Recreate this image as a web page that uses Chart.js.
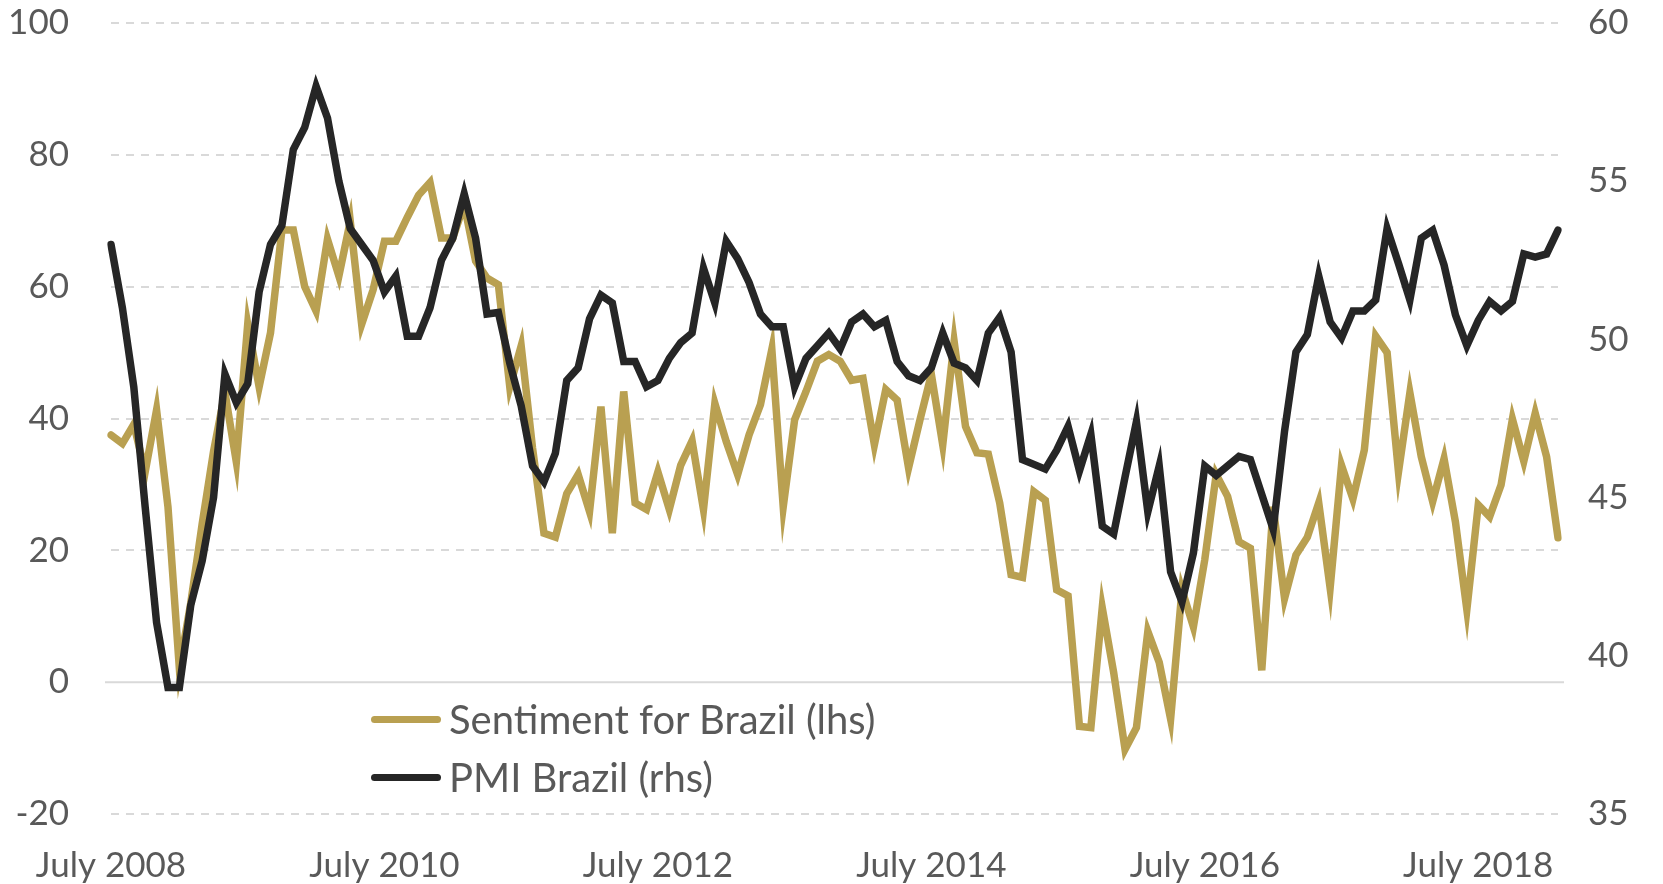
<!DOCTYPE html>
<html>
<head>
<meta charset="utf-8">
<script src="https://cdn.jsdelivr.net/npm/chart.js@4"></script>
<style>
    body { margin: 0; background: #fff; }
    #wrap { position: relative; width: 1663px; height: 884px; }
    #legend { position: absolute; left: 371px; top: 690px; font-family: Lato, sans-serif; font-size: 40px; color: #595959; }
    .item { display: flex; align-items: center; height: 58px; }
    .swatch { width: 70px; height: 7px; border-radius: 4px; margin-right: 8px; }
</style>
</head>
<body>
<div id="wrap">
    <canvas id="chart" width="1663" height="884"></canvas>
    <div id="legend"></div>
</div>
<script>
// Monthly data, July 2008 - February 2019
const sentiment = [
    37.5, 36.2, 39.1, 31.9, 41.3, 26.6, 2.1, 12, 24, 35, 44, 33.4,
    54.3, 44.8, 53.0, 68.6, 68.6, 60.0, 56.3, 67.2, 61.6, 69.9, 54.3, 59.5,
    66.9, 66.9, 70.5, 73.9, 75.8, 67.4, 67.4, 72.5, 63.9, 61.3, 60.3, 44.8,
    51.0, 35.5, 22.6, 22.0, 28.6, 31.5, 25.9, 41.8, 22.6, 44.1, 27.2, 26.2,
    31.9, 26.2, 32.9, 36.6, 26.2, 42.3, 36.5, 31.5, 37.5, 42.1, 50.5, 26.6,
    39.8, 44.1, 48.7, 49.7, 48.7, 45.8, 46.1, 36.0, 44.4, 42.8, 32.5, 39.8,
    46.7, 36.0, 51.7, 38.8, 34.8, 34.6, 27.2, 16.3, 15.9, 28.9, 27.6, 14.0,
    13.1, -6.7, -6.9, 11.3, 1.5, -10.2, -6.9, 7.7, 3.0, -5.6, 14.0, 8.4,
    18.6, 31.5, 28.2, 21.3, 20.3, 1.8, 26.6, 12.7, 19.3, 22.0, 27.2, 14.3,
    32.9, 27.8, 35.2, 52.5, 50.0, 31.9, 43.9, 34.2, 27.4, 33.9, 24.3, 11.0,
    26.9, 25.1, 29.9, 39.9, 33.5, 40.8, 34.2, 21.9
];

const pmi = [
    53.0, 51.0, 48.5, 44.7, 41.05, 39.0, 39.0, 41.6, 43.0, 45.0, 48.9, 48.0,
    48.6, 51.5, 53.0, 53.6, 56.0, 56.7, 58.0, 57.0, 55.0, 53.5, 53.0, 52.5,
    51.5, 52.0, 50.1, 50.1, 51.0, 52.5, 53.2, 54.6, 53.2, 50.8, 50.85, 49.25,
    47.9, 46.0, 45.5, 46.4, 48.7, 49.1, 50.65, 51.4, 51.15, 49.3, 49.3, 48.5,
    48.7, 49.4, 49.9, 50.2, 52.25, 51.15, 53.1, 52.55, 51.8, 50.8, 50.4, 50.4,
    48.5, 49.4, 49.8, 50.2, 49.7, 50.55, 50.8, 50.4, 50.6, 49.3, 48.85, 48.7,
    49.1, 50.2, 49.25, 49.1, 48.7, 50.2, 50.7, 49.6, 46.2, 46.05, 45.9, 46.5,
    47.25, 45.85, 47.0, 44.1, 43.85, 45.65, 47.4, 44.55, 46.0, 42.65, 41.7, 43.25,
    46.0, 45.7, 46.0, 46.3, 46.2, 45.1, 44.0, 47.1, 49.6, 50.15, 52.0, 50.55,
    50.05, 50.9, 50.9, 51.25, 53.5, 52.4, 51.25, 53.2, 53.45, 52.35, 50.77, 49.8,
    50.6, 51.2, 50.9, 51.2, 52.7, 52.6, 52.7, 53.45
];

const monthNames = ['January', 'February', 'March', 'April', 'May', 'June',
    'July', 'August', 'September', 'October', 'November', 'December'];

// category labels, one per month starting July 2008
const labels = [];
for (let i = 0; i < sentiment.length; i++) {
    const m = (6 + i) % 12;
    const y = 2008 + Math.floor((6 + i) / 12);
    labels.push(monthNames[m] + ' ' + y);
}

const leftTicks = { min: -20, max: 100, step: 20 };
const rightTicks = { min: 35, max: 60, step: 5 };

const gold = '#B9A051';
const dark = '#262626';
const textColor = '#595959';
const font = { family: 'Lato, sans-serif', size: 35 };

// solid line at zero on the left axis
const zeroLine = {
    id: 'zeroLine',
    beforeDatasetsDraw(chart) {
        const { ctx, chartArea } = chart;
        const y = chart.scales.y.getPixelForValue(0);
        ctx.save();
        ctx.strokeStyle = '#D9D9D9';
        ctx.lineWidth = 2;
        ctx.beginPath();
        ctx.moveTo(chartArea.left - 6, y);
        ctx.lineTo(chartArea.right + 6, y);
        ctx.stroke();
        ctx.restore();
    }
};

// keep the vertical axes from reserving extra room above the plot
function fitVertical(width) {
    return scale => {
        scale.width = width;
        scale.paddingTop = 0;
        scale.paddingBottom = 0;
    };
}

const ctx = document.getElementById('chart').getContext('2d');
const chart = new Chart(ctx, {
    type: 'line',
    data: {
        labels: labels,
        datasets: [
            {
                label: 'Sentiment for Brazil (lhs)',
                data: sentiment,
                yAxisID: 'y',
                borderColor: gold,
                borderWidth: 7.5,
                borderCapStyle: 'round',
                pointRadius: 0,
                tension: 0,
                order: 1
            },
            {
                label: 'PMI Brazil (rhs)',
                data: pmi,
                yAxisID: 'y1',
                borderColor: dark,
                borderWidth: 7.5,
                borderCapStyle: 'round',
                pointRadius: 0,
                tension: 0,
                order: 0
            }
        ]
    },
    options: {
        responsive: false,
        animation: false,
        layout: { padding: { top: 23, left: 0, right: 0, bottom: 0 } },
        plugins: {
            legend: { display: false },
            tooltip: { enabled: false }
        },
        scales: {
            x: {
                grid: { display: false, drawTicks: false },
                border: { display: false },
                afterFit(scale) { scale.height = 70; },
                ticks: {
                    autoSkip: false,
                    maxRotation: 0,
                    padding: 31,
                    color: textColor,
                    font: font,
                    callback(val, i) {
                        if (i % 24 !== 0) return null;
                        return this.getLabelForValue(val);
                    }
                }
            },
            y: {
                position: 'left',
                min: leftTicks.min,
                max: leftTicks.max,
                afterFit: fitVertical(111),
                grid: {
                    color: ctx => ctx.tick.value === 0 ? 'rgba(0,0,0,0)' : '#D9D9D9',
                    lineWidth: 2,
                    drawTicks: false
                },
                border: { display: false, dash: [8, 7] },
                ticks: { stepSize: leftTicks.step, padding: 42, color: textColor, font: font }
            },
            y1: {
                position: 'right',
                min: rightTicks.min,
                max: rightTicks.max,
                afterFit: fitVertical(105),
                grid: { display: false, drawTicks: false },
                border: { display: false },
                ticks: { stepSize: rightTicks.step, padding: 30, color: textColor, font: font }
            }
        }
    },
    plugins: [zeroLine]
});

// HTML legend, placed inside the plot area
const legendBox = document.getElementById('legend');
chart.data.datasets.forEach(ds => {
    const item = document.createElement('div');
    item.className = 'item';
    const sw = document.createElement('span');
    sw.className = 'swatch';
    sw.style.background = ds.borderColor;
    const txt = document.createElement('span');
    txt.textContent = ds.label;
    item.appendChild(sw);
    item.appendChild(txt);
    legendBox.appendChild(item);
});
</script>
</body>
</html>
